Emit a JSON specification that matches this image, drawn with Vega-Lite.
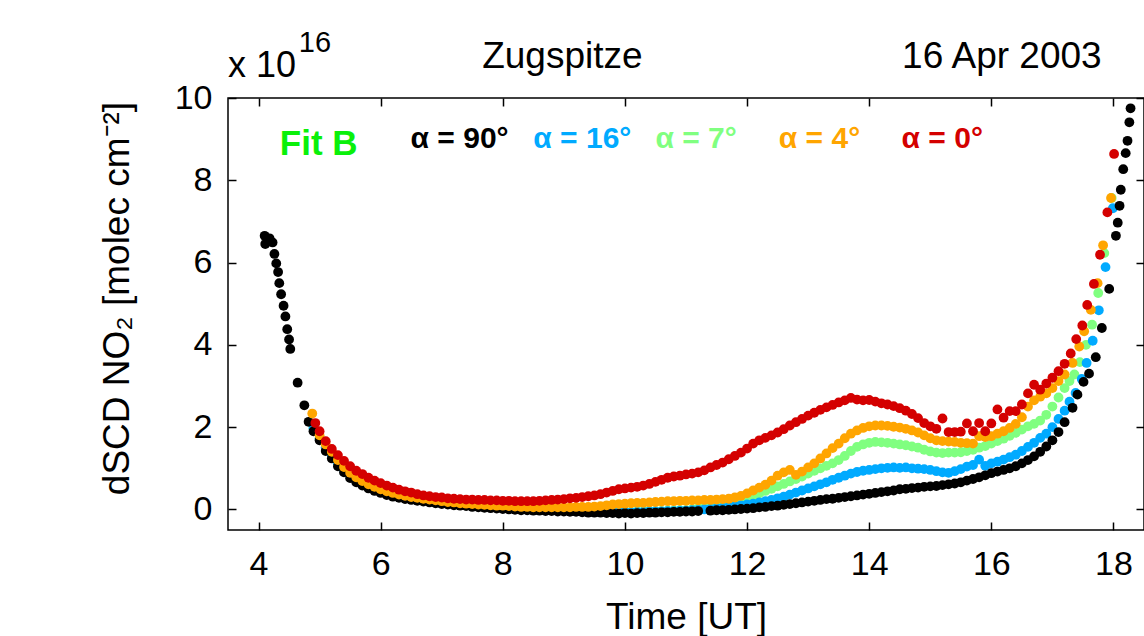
{
"$schema": "https://vega.github.io/schema/vega-lite/v6.json",
"width": 916, "height": 432,
"autosize": {"type": "none"},
"padding": {"left": 228, "top": 98, "right": 0, "bottom": 106},
"background": "white",
"config": {
 "view": {"stroke": "black", "strokeWidth": 1.5},
 "axis": {"grid": false, "domain": false, "tickColor": "black", "tickWidth": 1.5, "tickSize": -8,
  "labelFont": "Liberation Sans", "labelFontSize": 34, "labelColor": "black", "labelFlush": false, "labelOverlap": false,
  "titleFont": "Liberation Sans", "titleFontSize": 37, "titleFontWeight": "normal", "titleColor": "black"},
 "text": {"font": "Liberation Sans"}
},
"datasets": {
"pts": [
{"t":4.9,"v":1.98,"s":"7"},{"t":5.0,"v":1.73,"s":"7"},{"t":5.1,"v":1.51,"s":"7"},{"t":5.2,"v":1.33,"s":"7"},{"t":5.3,"v":1.14,"s":"7"},{"t":5.4,"v":0.98,"s":"7"},{"t":5.5,"v":0.84,"s":"7"},{"t":5.6,"v":0.73,"s":"7"},{"t":5.7,"v":0.64,"s":"7"},{"t":5.8,"v":0.57,"s":"7"},{"t":5.9,"v":0.51,"s":"7"},{"t":6.0,"v":0.45,"s":"7"},{"t":6.1,"v":0.40,"s":"7"},{"t":6.2,"v":0.36,"s":"7"},{"t":6.3,"v":0.33,"s":"7"},{"t":6.4,"v":0.30,"s":"7"},{"t":6.5,"v":0.27,"s":"7"},{"t":6.6,"v":0.25,"s":"7"},{"t":6.7,"v":0.23,"s":"7"},{"t":6.8,"v":0.21,"s":"7"},{"t":6.9,"v":0.19,"s":"7"},{"t":7.0,"v":0.17,"s":"7"},{"t":7.1,"v":0.16,"s":"7"},{"t":7.2,"v":0.14,"s":"7"},{"t":7.3,"v":0.13,"s":"7"},{"t":7.4,"v":0.12,"s":"7"},{"t":7.5,"v":0.10,"s":"7"},{"t":7.6,"v":0.09,"s":"7"},{"t":7.7,"v":0.08,"s":"7"},{"t":7.8,"v":0.07,"s":"7"},{"t":7.9,"v":0.06,"s":"7"},{"t":8.0,"v":0.05,"s":"7"},{"t":8.1,"v":0.04,"s":"7"},{"t":8.2,"v":0.03,"s":"7"},{"t":8.3,"v":0.02,"s":"7"},{"t":8.4,"v":0.02,"s":"7"},{"t":8.5,"v":0.01,"s":"7"},{"t":8.6,"v":0.01,"s":"7"},{"t":8.7,"v":0.00,"s":"7"},{"t":8.8,"v":0.00,"s":"7"},{"t":8.9,"v":-0.01,"s":"7"},{"t":9.0,"v":-0.01,"s":"7"},{"t":9.1,"v":-0.02,"s":"7"},{"t":9.2,"v":-0.02,"s":"7"},{"t":9.3,"v":-0.03,"s":"7"},{"t":9.4,"v":-0.04,"s":"7"},{"t":9.5,"v":-0.04,"s":"7"},{"t":9.6,"v":-0.04,"s":"7"},{"t":9.7,"v":-0.05,"s":"7"},{"t":9.8,"v":-0.05,"s":"7"},{"t":9.9,"v":-0.06,"s":"7"},{"t":10.0,"v":-0.05,"s":"7"},{"t":10.1,"v":-0.06,"s":"7"},{"t":10.2,"v":-0.05,"s":"7"},{"t":10.3,"v":-0.05,"s":"7"},{"t":10.4,"v":-0.04,"s":"7"},{"t":10.5,"v":-0.04,"s":"7"},{"t":10.6,"v":-0.04,"s":"7"},{"t":10.7,"v":-0.03,"s":"7"},{"t":10.8,"v":-0.03,"s":"7"},{"t":10.9,"v":-0.02,"s":"7"},{"t":11.0,"v":-0.02,"s":"7"},{"t":11.1,"v":0.00,"s":"7"},{"t":11.2,"v":0.03,"s":"7"},{"t":11.3,"v":0.05,"s":"7"},{"t":11.4,"v":0.07,"s":"7"},{"t":11.5,"v":0.09,"s":"7"},{"t":11.6,"v":0.12,"s":"7"},{"t":11.7,"v":0.15,"s":"7"},{"t":11.8,"v":0.19,"s":"7"},{"t":11.9,"v":0.24,"s":"7"},{"t":12.0,"v":0.28,"s":"7"},{"t":12.1,"v":0.33,"s":"7"},{"t":12.2,"v":0.39,"s":"7"},{"t":12.3,"v":0.45,"s":"7"},{"t":12.4,"v":0.50,"s":"7"},{"t":12.5,"v":0.56,"s":"7"},{"t":12.6,"v":0.62,"s":"7"},{"t":12.7,"v":0.68,"s":"7"},{"t":12.8,"v":0.74,"s":"7"},{"t":12.9,"v":0.80,"s":"7"},{"t":13.0,"v":0.87,"s":"7"},{"t":13.1,"v":0.94,"s":"7"},{"t":13.2,"v":1.00,"s":"7"},{"t":13.3,"v":1.06,"s":"7"},{"t":13.4,"v":1.12,"s":"7"},{"t":13.5,"v":1.20,"s":"7"},{"t":13.6,"v":1.30,"s":"7"},{"t":13.7,"v":1.42,"s":"7"},{"t":13.8,"v":1.52,"s":"7"},{"t":13.9,"v":1.58,"s":"7"},{"t":14.0,"v":1.62,"s":"7"},{"t":14.1,"v":1.64,"s":"7"},{"t":14.2,"v":1.63,"s":"7"},{"t":14.3,"v":1.62,"s":"7"},{"t":14.4,"v":1.60,"s":"7"},{"t":14.5,"v":1.58,"s":"7"},{"t":14.6,"v":1.56,"s":"7"},{"t":14.7,"v":1.53,"s":"7"},{"t":14.8,"v":1.50,"s":"7"},{"t":14.9,"v":1.45,"s":"7"},{"t":15.0,"v":1.41,"s":"7"},{"t":15.1,"v":1.38,"s":"7"},{"t":15.2,"v":1.37,"s":"7"},{"t":15.3,"v":1.38,"s":"7"},{"t":15.4,"v":1.38,"s":"7"},{"t":15.5,"v":1.39,"s":"7"},{"t":15.6,"v":1.42,"s":"7"},{"t":15.7,"v":1.45,"s":"7"},{"t":15.8,"v":1.50,"s":"7"},{"t":15.9,"v":1.54,"s":"7"},{"t":16.0,"v":1.60,"s":"7"},{"t":16.1,"v":1.66,"s":"7"},{"t":16.2,"v":1.72,"s":"7"},{"t":16.3,"v":1.79,"s":"7"},{"t":16.4,"v":1.86,"s":"7"},{"t":16.5,"v":1.94,"s":"7"},{"t":16.6,"v":2.02,"s":"7"},{"t":16.7,"v":2.08,"s":"7"},{"t":16.8,"v":2.16,"s":"7"},{"t":16.9,"v":2.30,"s":"7"},{"t":17.0,"v":2.50,"s":"7"},{"t":17.1,"v":2.72,"s":"7"},{"t":17.2,"v":2.95,"s":"7"},{"t":17.28,"v":3.12,"s":"7"},{"t":17.36,"v":3.28,"s":"7"},{"t":17.45,"v":3.58,"s":"7"},{"t":17.55,"v":4.00,"s":"7"},{"t":17.65,"v":4.49,"s":"7"},{"t":17.75,"v":5.26,"s":"7"},{"t":17.85,"v":6.23,"s":"7"},{"t":17.97,"v":7.57,"s":"7"},
{"t":4.9,"v":1.97,"s":"16"},{"t":5.0,"v":1.72,"s":"16"},{"t":5.1,"v":1.50,"s":"16"},{"t":5.2,"v":1.32,"s":"16"},{"t":5.3,"v":1.13,"s":"16"},{"t":5.4,"v":0.97,"s":"16"},{"t":5.5,"v":0.83,"s":"16"},{"t":5.6,"v":0.72,"s":"16"},{"t":5.7,"v":0.63,"s":"16"},{"t":5.8,"v":0.56,"s":"16"},{"t":5.9,"v":0.50,"s":"16"},{"t":6.0,"v":0.44,"s":"16"},{"t":6.1,"v":0.39,"s":"16"},{"t":6.2,"v":0.35,"s":"16"},{"t":6.3,"v":0.32,"s":"16"},{"t":6.4,"v":0.29,"s":"16"},{"t":6.5,"v":0.26,"s":"16"},{"t":6.6,"v":0.24,"s":"16"},{"t":6.7,"v":0.22,"s":"16"},{"t":6.8,"v":0.20,"s":"16"},{"t":6.9,"v":0.18,"s":"16"},{"t":7.0,"v":0.16,"s":"16"},{"t":7.1,"v":0.15,"s":"16"},{"t":7.2,"v":0.13,"s":"16"},{"t":7.3,"v":0.12,"s":"16"},{"t":7.4,"v":0.11,"s":"16"},{"t":7.5,"v":0.09,"s":"16"},{"t":7.6,"v":0.08,"s":"16"},{"t":7.7,"v":0.07,"s":"16"},{"t":7.8,"v":0.06,"s":"16"},{"t":7.9,"v":0.05,"s":"16"},{"t":8.0,"v":0.04,"s":"16"},{"t":8.1,"v":0.03,"s":"16"},{"t":8.2,"v":0.02,"s":"16"},{"t":8.3,"v":0.01,"s":"16"},{"t":8.4,"v":0.01,"s":"16"},{"t":8.5,"v":0.00,"s":"16"},{"t":8.6,"v":0.00,"s":"16"},{"t":8.7,"v":-0.01,"s":"16"},{"t":8.8,"v":-0.01,"s":"16"},{"t":8.9,"v":-0.02,"s":"16"},{"t":9.0,"v":-0.02,"s":"16"},{"t":9.1,"v":-0.03,"s":"16"},{"t":9.2,"v":-0.03,"s":"16"},{"t":9.3,"v":-0.04,"s":"16"},{"t":9.4,"v":-0.05,"s":"16"},{"t":9.5,"v":-0.05,"s":"16"},{"t":9.6,"v":-0.05,"s":"16"},{"t":9.7,"v":-0.06,"s":"16"},{"t":9.8,"v":-0.06,"s":"16"},{"t":9.9,"v":-0.07,"s":"16"},{"t":10.0,"v":-0.06,"s":"16"},{"t":10.1,"v":-0.07,"s":"16"},{"t":10.2,"v":-0.06,"s":"16"},{"t":10.3,"v":-0.06,"s":"16"},{"t":10.4,"v":-0.05,"s":"16"},{"t":10.5,"v":-0.05,"s":"16"},{"t":10.6,"v":-0.05,"s":"16"},{"t":10.7,"v":-0.04,"s":"16"},{"t":10.8,"v":-0.04,"s":"16"},{"t":10.9,"v":-0.03,"s":"16"},{"t":11.0,"v":-0.03,"s":"16"},{"t":11.1,"v":-0.02,"s":"16"},{"t":11.2,"v":-0.01,"s":"16"},{"t":11.3,"v":0.00,"s":"16"},{"t":11.4,"v":0.01,"s":"16"},{"t":11.5,"v":0.03,"s":"16"},{"t":11.6,"v":0.04,"s":"16"},{"t":11.7,"v":0.06,"s":"16"},{"t":11.8,"v":0.08,"s":"16"},{"t":11.9,"v":0.10,"s":"16"},{"t":12.0,"v":0.12,"s":"16"},{"t":12.1,"v":0.14,"s":"16"},{"t":12.2,"v":0.17,"s":"16"},{"t":12.3,"v":0.20,"s":"16"},{"t":12.4,"v":0.23,"s":"16"},{"t":12.5,"v":0.27,"s":"16"},{"t":12.6,"v":0.31,"s":"16"},{"t":12.7,"v":0.36,"s":"16"},{"t":12.8,"v":0.41,"s":"16"},{"t":12.9,"v":0.46,"s":"16"},{"t":13.0,"v":0.51,"s":"16"},{"t":13.1,"v":0.56,"s":"16"},{"t":13.2,"v":0.61,"s":"16"},{"t":13.3,"v":0.66,"s":"16"},{"t":13.4,"v":0.72,"s":"16"},{"t":13.5,"v":0.77,"s":"16"},{"t":13.6,"v":0.82,"s":"16"},{"t":13.7,"v":0.87,"s":"16"},{"t":13.8,"v":0.91,"s":"16"},{"t":13.9,"v":0.94,"s":"16"},{"t":14.0,"v":0.96,"s":"16"},{"t":14.1,"v":0.98,"s":"16"},{"t":14.2,"v":1.00,"s":"16"},{"t":14.3,"v":1.01,"s":"16"},{"t":14.4,"v":1.02,"s":"16"},{"t":14.5,"v":1.01,"s":"16"},{"t":14.6,"v":1.02,"s":"16"},{"t":14.7,"v":1.00,"s":"16"},{"t":14.8,"v":0.99,"s":"16"},{"t":14.9,"v":0.98,"s":"16"},{"t":15.0,"v":0.96,"s":"16"},{"t":15.1,"v":0.93,"s":"16"},{"t":15.2,"v":0.90,"s":"16"},{"t":15.3,"v":0.89,"s":"16"},{"t":15.4,"v":0.93,"s":"16"},{"t":15.5,"v":0.98,"s":"16"},{"t":15.6,"v":1.04,"s":"16"},{"t":15.7,"v":1.08,"s":"16"},{"t":15.8,"v":1.21,"s":"16"},{"t":15.9,"v":1.06,"s":"16"},{"t":16.0,"v":1.12,"s":"16"},{"t":16.1,"v":1.16,"s":"16"},{"t":16.2,"v":1.21,"s":"16"},{"t":16.3,"v":1.27,"s":"16"},{"t":16.4,"v":1.33,"s":"16"},{"t":16.5,"v":1.42,"s":"16"},{"t":16.6,"v":1.52,"s":"16"},{"t":16.7,"v":1.62,"s":"16"},{"t":16.8,"v":1.74,"s":"16"},{"t":16.9,"v":1.84,"s":"16"},{"t":17.0,"v":2.00,"s":"16"},{"t":17.1,"v":2.20,"s":"16"},{"t":17.2,"v":2.40,"s":"16"},{"t":17.28,"v":2.62,"s":"16"},{"t":17.38,"v":2.83,"s":"16"},{"t":17.48,"v":3.17,"s":"16"},{"t":17.56,"v":3.56,"s":"16"},{"t":17.66,"v":4.10,"s":"16"},{"t":17.76,"v":4.84,"s":"16"},{"t":17.87,"v":5.89,"s":"16"},{"t":17.99,"v":7.32,"s":"16"},
{"t":4.10,"v":6.65,"s":"90"},{"t":4.11,"v":6.45,"s":"90"},{"t":4.18,"v":6.59,"s":"90"},{"t":4.23,"v":6.49,"s":"90"},{"t":4.26,"v":6.21,"s":"90"},{"t":4.29,"v":5.98,"s":"90"},{"t":4.32,"v":5.77,"s":"90"},{"t":4.34,"v":5.50,"s":"90"},{"t":4.37,"v":5.23,"s":"90"},{"t":4.41,"v":4.95,"s":"90"},{"t":4.44,"v":4.69,"s":"90"},{"t":4.47,"v":4.38,"s":"90"},{"t":4.50,"v":4.13,"s":"90"},{"t":4.52,"v":3.90,"s":"90"},{"t":4.64,"v":3.08,"s":"90"},{"t":4.75,"v":2.53,"s":"90"},{"t":4.82,"v":2.13,"s":"90"},
{"t":4.9,"v":1.90,"s":"90"},{"t":5.0,"v":1.68,"s":"90"},{"t":5.1,"v":1.42,"s":"90"},{"t":5.2,"v":1.24,"s":"90"},{"t":5.3,"v":1.05,"s":"90"},{"t":5.4,"v":0.90,"s":"90"},{"t":5.5,"v":0.76,"s":"90"},{"t":5.6,"v":0.66,"s":"90"},{"t":5.7,"v":0.58,"s":"90"},{"t":5.8,"v":0.51,"s":"90"},{"t":5.9,"v":0.45,"s":"90"},{"t":6.0,"v":0.40,"s":"90"},{"t":6.1,"v":0.35,"s":"90"},{"t":6.2,"v":0.31,"s":"90"},{"t":6.3,"v":0.28,"s":"90"},{"t":6.4,"v":0.25,"s":"90"},{"t":6.5,"v":0.23,"s":"90"},{"t":6.6,"v":0.21,"s":"90"},{"t":6.7,"v":0.19,"s":"90"},{"t":6.8,"v":0.17,"s":"90"},{"t":6.9,"v":0.15,"s":"90"},{"t":7.0,"v":0.13,"s":"90"},{"t":7.1,"v":0.12,"s":"90"},{"t":7.2,"v":0.10,"s":"90"},{"t":7.3,"v":0.09,"s":"90"},{"t":7.4,"v":0.08,"s":"90"},{"t":7.5,"v":0.06,"s":"90"},{"t":7.6,"v":0.05,"s":"90"},{"t":7.7,"v":0.04,"s":"90"},{"t":7.8,"v":0.03,"s":"90"},{"t":7.9,"v":0.02,"s":"90"},{"t":8.0,"v":0.01,"s":"90"},{"t":8.1,"v":0.00,"s":"90"},{"t":8.2,"v":-0.01,"s":"90"},{"t":8.3,"v":-0.02,"s":"90"},{"t":8.4,"v":-0.02,"s":"90"},{"t":8.5,"v":-0.03,"s":"90"},{"t":8.6,"v":-0.03,"s":"90"},{"t":8.7,"v":-0.04,"s":"90"},{"t":8.8,"v":-0.04,"s":"90"},{"t":8.9,"v":-0.05,"s":"90"},{"t":9.0,"v":-0.05,"s":"90"},{"t":9.1,"v":-0.06,"s":"90"},{"t":9.2,"v":-0.06,"s":"90"},{"t":9.3,"v":-0.07,"s":"90"},{"t":9.4,"v":-0.08,"s":"90"},{"t":9.5,"v":-0.08,"s":"90"},{"t":9.6,"v":-0.08,"s":"90"},{"t":9.7,"v":-0.09,"s":"90"},{"t":9.8,"v":-0.09,"s":"90"},{"t":9.9,"v":-0.10,"s":"90"},{"t":10.0,"v":-0.09,"s":"90"},{"t":10.1,"v":-0.10,"s":"90"},{"t":10.2,"v":-0.09,"s":"90"},{"t":10.3,"v":-0.09,"s":"90"},{"t":10.4,"v":-0.08,"s":"90"},{"t":10.5,"v":-0.08,"s":"90"},{"t":10.6,"v":-0.07,"s":"90"},{"t":10.7,"v":-0.07,"s":"90"},{"t":10.8,"v":-0.06,"s":"90"},{"t":10.9,"v":-0.06,"s":"90"},{"t":11.0,"v":-0.05,"s":"90"},{"t":11.1,"v":-0.05,"s":"90"},{"t":11.2,"v":-0.04,"s":"90"},{"t":11.4,"v":-0.03,"s":"90"},{"t":11.5,"v":-0.02,"s":"90"},{"t":11.6,"v":-0.02,"s":"90"},{"t":11.7,"v":-0.01,"s":"90"},{"t":11.8,"v":0.00,"s":"90"},{"t":11.9,"v":0.01,"s":"90"},{"t":12.0,"v":0.02,"s":"90"},{"t":12.1,"v":0.03,"s":"90"},{"t":12.2,"v":0.05,"s":"90"},{"t":12.3,"v":0.06,"s":"90"},{"t":12.4,"v":0.08,"s":"90"},{"t":12.5,"v":0.09,"s":"90"},{"t":12.6,"v":0.11,"s":"90"},{"t":12.7,"v":0.13,"s":"90"},{"t":12.8,"v":0.15,"s":"90"},{"t":12.9,"v":0.17,"s":"90"},{"t":13.0,"v":0.19,"s":"90"},{"t":13.1,"v":0.21,"s":"90"},{"t":13.2,"v":0.23,"s":"90"},{"t":13.3,"v":0.25,"s":"90"},{"t":13.4,"v":0.26,"s":"90"},{"t":13.5,"v":0.28,"s":"90"},{"t":13.6,"v":0.30,"s":"90"},{"t":13.7,"v":0.32,"s":"90"},{"t":13.8,"v":0.34,"s":"90"},{"t":13.9,"v":0.36,"s":"90"},{"t":14.0,"v":0.38,"s":"90"},{"t":14.1,"v":0.40,"s":"90"},{"t":14.2,"v":0.42,"s":"90"},{"t":14.3,"v":0.44,"s":"90"},{"t":14.4,"v":0.46,"s":"90"},{"t":14.5,"v":0.49,"s":"90"},{"t":14.6,"v":0.50,"s":"90"},{"t":14.7,"v":0.52,"s":"90"},{"t":14.8,"v":0.53,"s":"90"},{"t":14.9,"v":0.55,"s":"90"},{"t":15.0,"v":0.56,"s":"90"},{"t":15.1,"v":0.57,"s":"90"},{"t":15.2,"v":0.59,"s":"90"},{"t":15.3,"v":0.61,"s":"90"},{"t":15.4,"v":0.63,"s":"90"},{"t":15.5,"v":0.66,"s":"90"},{"t":15.6,"v":0.70,"s":"90"},{"t":15.7,"v":0.74,"s":"90"},{"t":15.8,"v":0.78,"s":"90"},{"t":15.9,"v":0.83,"s":"90"},{"t":16.0,"v":0.88,"s":"90"},{"t":16.1,"v":0.92,"s":"90"},{"t":16.2,"v":0.96,"s":"90"},{"t":16.3,"v":1.00,"s":"90"},{"t":16.4,"v":1.05,"s":"90"},{"t":16.5,"v":1.12,"s":"90"},{"t":16.6,"v":1.20,"s":"90"},{"t":16.7,"v":1.29,"s":"90"},{"t":16.8,"v":1.40,"s":"90"},{"t":16.9,"v":1.53,"s":"90"},{"t":17.0,"v":1.68,"s":"90"},{"t":17.1,"v":1.88,"s":"90"},{"t":17.2,"v":2.12,"s":"90"},{"t":17.33,"v":2.47,"s":"90"},{"t":17.41,"v":2.79,"s":"90"},{"t":17.51,"v":3.10,"s":"90"},{"t":17.60,"v":3.30,"s":"90"},{"t":17.71,"v":3.70,"s":"90"},{"t":17.81,"v":4.41,"s":"90"},{"t":17.93,"v":5.36,"s":"90"},{"t":18.04,"v":6.65,"s":"90"},{"t":18.07,"v":6.97,"s":"90"},{"t":18.10,"v":7.38,"s":"90"},{"t":18.12,"v":7.77,"s":"90"},{"t":18.16,"v":8.27,"s":"90"},{"t":18.20,"v":8.66,"s":"90"},{"t":18.23,"v":8.96,"s":"90"},{"t":18.26,"v":9.41,"s":"90"},{"t":18.28,"v":9.75,"s":"90"},
{"t":4.88,"v":2.33,"s":"4"},{"t":5.0,"v":1.80,"s":"4"},{"t":5.1,"v":1.58,"s":"4"},{"t":5.2,"v":1.40,"s":"4"},{"t":5.3,"v":1.20,"s":"4"},{"t":5.4,"v":1.03,"s":"4"},{"t":5.5,"v":0.89,"s":"4"},{"t":5.6,"v":0.78,"s":"4"},{"t":5.7,"v":0.69,"s":"4"},{"t":5.8,"v":0.61,"s":"4"},{"t":5.9,"v":0.55,"s":"4"},{"t":6.0,"v":0.49,"s":"4"},{"t":6.1,"v":0.44,"s":"4"},{"t":6.2,"v":0.40,"s":"4"},{"t":6.3,"v":0.36,"s":"4"},{"t":6.4,"v":0.33,"s":"4"},{"t":6.5,"v":0.30,"s":"4"},{"t":6.6,"v":0.28,"s":"4"},{"t":6.7,"v":0.26,"s":"4"},{"t":6.8,"v":0.24,"s":"4"},{"t":6.9,"v":0.22,"s":"4"},{"t":7.0,"v":0.20,"s":"4"},{"t":7.1,"v":0.18,"s":"4"},{"t":7.2,"v":0.17,"s":"4"},{"t":7.3,"v":0.15,"s":"4"},{"t":7.4,"v":0.14,"s":"4"},{"t":7.5,"v":0.13,"s":"4"},{"t":7.6,"v":0.12,"s":"4"},{"t":7.7,"v":0.11,"s":"4"},{"t":7.8,"v":0.10,"s":"4"},{"t":7.9,"v":0.09,"s":"4"},{"t":8.0,"v":0.09,"s":"4"},{"t":8.1,"v":0.08,"s":"4"},{"t":8.2,"v":0.07,"s":"4"},{"t":8.3,"v":0.06,"s":"4"},{"t":8.4,"v":0.06,"s":"4"},{"t":8.5,"v":0.05,"s":"4"},{"t":8.6,"v":0.05,"s":"4"},{"t":8.7,"v":0.05,"s":"4"},{"t":8.8,"v":0.05,"s":"4"},{"t":8.9,"v":0.05,"s":"4"},{"t":9.0,"v":0.05,"s":"4"},{"t":9.1,"v":0.05,"s":"4"},{"t":9.2,"v":0.06,"s":"4"},{"t":9.3,"v":0.06,"s":"4"},{"t":9.4,"v":0.06,"s":"4"},{"t":9.5,"v":0.07,"s":"4"},{"t":9.6,"v":0.08,"s":"4"},{"t":9.7,"v":0.10,"s":"4"},{"t":9.8,"v":0.12,"s":"4"},{"t":9.9,"v":0.13,"s":"4"},{"t":10.0,"v":0.14,"s":"4"},{"t":10.1,"v":0.15,"s":"4"},{"t":10.2,"v":0.16,"s":"4"},{"t":10.3,"v":0.16,"s":"4"},{"t":10.4,"v":0.17,"s":"4"},{"t":10.5,"v":0.18,"s":"4"},{"t":10.6,"v":0.19,"s":"4"},{"t":10.7,"v":0.20,"s":"4"},{"t":10.8,"v":0.20,"s":"4"},{"t":10.9,"v":0.21,"s":"4"},{"t":11.0,"v":0.21,"s":"4"},{"t":11.1,"v":0.22,"s":"4"},{"t":11.2,"v":0.22,"s":"4"},{"t":11.3,"v":0.23,"s":"4"},{"t":11.4,"v":0.23,"s":"4"},{"t":11.5,"v":0.24,"s":"4"},{"t":11.6,"v":0.25,"s":"4"},{"t":11.7,"v":0.26,"s":"4"},{"t":11.8,"v":0.29,"s":"4"},{"t":11.9,"v":0.33,"s":"4"},{"t":12.0,"v":0.39,"s":"4"},{"t":12.1,"v":0.46,"s":"4"},{"t":12.2,"v":0.53,"s":"4"},{"t":12.3,"v":0.60,"s":"4"},{"t":12.4,"v":0.70,"s":"4"},{"t":12.5,"v":0.82,"s":"4"},{"t":12.6,"v":0.90,"s":"4"},{"t":12.7,"v":0.96,"s":"4"},{"t":12.8,"v":0.84,"s":"4"},{"t":12.9,"v":0.92,"s":"4"},{"t":13.0,"v":1.02,"s":"4"},{"t":13.1,"v":1.12,"s":"4"},{"t":13.2,"v":1.24,"s":"4"},{"t":13.3,"v":1.36,"s":"4"},{"t":13.4,"v":1.49,"s":"4"},{"t":13.5,"v":1.60,"s":"4"},{"t":13.6,"v":1.73,"s":"4"},{"t":13.7,"v":1.84,"s":"4"},{"t":13.8,"v":1.92,"s":"4"},{"t":13.9,"v":1.98,"s":"4"},{"t":14.0,"v":2.02,"s":"4"},{"t":14.1,"v":2.04,"s":"4"},{"t":14.2,"v":2.04,"s":"4"},{"t":14.3,"v":2.03,"s":"4"},{"t":14.4,"v":2.01,"s":"4"},{"t":14.5,"v":1.99,"s":"4"},{"t":14.6,"v":1.96,"s":"4"},{"t":14.7,"v":1.92,"s":"4"},{"t":14.8,"v":1.87,"s":"4"},{"t":14.9,"v":1.80,"s":"4"},{"t":15.0,"v":1.73,"s":"4"},{"t":15.1,"v":1.68,"s":"4"},{"t":15.2,"v":1.66,"s":"4"},{"t":15.3,"v":1.65,"s":"4"},{"t":15.4,"v":1.64,"s":"4"},{"t":15.5,"v":1.62,"s":"4"},{"t":15.6,"v":1.61,"s":"4"},{"t":15.7,"v":1.60,"s":"4"},{"t":15.8,"v":1.78,"s":"4"},{"t":15.9,"v":1.76,"s":"4"},{"t":16.0,"v":1.78,"s":"4"},{"t":16.1,"v":1.84,"s":"4"},{"t":16.2,"v":1.90,"s":"4"},{"t":16.3,"v":1.98,"s":"4"},{"t":16.4,"v":2.08,"s":"4"},{"t":16.5,"v":2.24,"s":"4"},{"t":16.6,"v":2.50,"s":"4"},{"t":16.7,"v":2.65,"s":"4"},{"t":16.8,"v":2.74,"s":"4"},{"t":16.9,"v":2.82,"s":"4"},{"t":17.0,"v":2.95,"s":"4"},{"t":17.1,"v":3.12,"s":"4"},{"t":17.2,"v":3.28,"s":"4"},{"t":17.33,"v":3.56,"s":"4"},{"t":17.44,"v":3.96,"s":"4"},{"t":17.52,"v":4.33,"s":"4"},{"t":17.63,"v":4.85,"s":"4"},{"t":17.74,"v":5.50,"s":"4"},{"t":17.83,"v":6.42,"s":"4"},{"t":17.96,"v":7.57,"s":"4"},
{"t":4.93,"v":2.10,"s":"0"},{"t":5.0,"v":1.90,"s":"0"},{"t":5.1,"v":1.66,"s":"0"},{"t":5.2,"v":1.47,"s":"0"},{"t":5.3,"v":1.32,"s":"0"},{"t":5.4,"v":1.18,"s":"0"},{"t":5.5,"v":1.05,"s":"0"},{"t":5.6,"v":0.94,"s":"0"},{"t":5.7,"v":0.86,"s":"0"},{"t":5.8,"v":0.77,"s":"0"},{"t":5.9,"v":0.70,"s":"0"},{"t":6.0,"v":0.64,"s":"0"},{"t":6.1,"v":0.58,"s":"0"},{"t":6.2,"v":0.53,"s":"0"},{"t":6.3,"v":0.48,"s":"0"},{"t":6.4,"v":0.44,"s":"0"},{"t":6.5,"v":0.41,"s":"0"},{"t":6.6,"v":0.37,"s":"0"},{"t":6.7,"v":0.34,"s":"0"},{"t":6.8,"v":0.32,"s":"0"},{"t":6.9,"v":0.30,"s":"0"},{"t":7.0,"v":0.29,"s":"0"},{"t":7.1,"v":0.27,"s":"0"},{"t":7.2,"v":0.26,"s":"0"},{"t":7.3,"v":0.25,"s":"0"},{"t":7.4,"v":0.24,"s":"0"},{"t":7.5,"v":0.24,"s":"0"},{"t":7.6,"v":0.23,"s":"0"},{"t":7.7,"v":0.23,"s":"0"},{"t":7.8,"v":0.22,"s":"0"},{"t":7.9,"v":0.22,"s":"0"},{"t":8.0,"v":0.21,"s":"0"},{"t":8.1,"v":0.21,"s":"0"},{"t":8.2,"v":0.20,"s":"0"},{"t":8.3,"v":0.20,"s":"0"},{"t":8.4,"v":0.20,"s":"0"},{"t":8.5,"v":0.20,"s":"0"},{"t":8.6,"v":0.21,"s":"0"},{"t":8.7,"v":0.22,"s":"0"},{"t":8.8,"v":0.23,"s":"0"},{"t":8.9,"v":0.24,"s":"0"},{"t":9.0,"v":0.25,"s":"0"},{"t":9.1,"v":0.27,"s":"0"},{"t":9.2,"v":0.28,"s":"0"},{"t":9.3,"v":0.30,"s":"0"},{"t":9.4,"v":0.32,"s":"0"},{"t":9.5,"v":0.34,"s":"0"},{"t":9.6,"v":0.37,"s":"0"},{"t":9.7,"v":0.41,"s":"0"},{"t":9.8,"v":0.45,"s":"0"},{"t":9.9,"v":0.49,"s":"0"},{"t":10.0,"v":0.51,"s":"0"},{"t":10.1,"v":0.53,"s":"0"},{"t":10.2,"v":0.55,"s":"0"},{"t":10.3,"v":0.58,"s":"0"},{"t":10.4,"v":0.62,"s":"0"},{"t":10.5,"v":0.67,"s":"0"},{"t":10.6,"v":0.72,"s":"0"},{"t":10.7,"v":0.77,"s":"0"},{"t":10.8,"v":0.80,"s":"0"},{"t":10.9,"v":0.82,"s":"0"},{"t":11.0,"v":0.85,"s":"0"},{"t":11.1,"v":0.87,"s":"0"},{"t":11.2,"v":0.90,"s":"0"},{"t":11.3,"v":0.95,"s":"0"},{"t":11.4,"v":1.02,"s":"0"},{"t":11.5,"v":1.08,"s":"0"},{"t":11.6,"v":1.14,"s":"0"},{"t":11.7,"v":1.22,"s":"0"},{"t":11.8,"v":1.30,"s":"0"},{"t":11.9,"v":1.38,"s":"0"},{"t":12.0,"v":1.48,"s":"0"},{"t":12.1,"v":1.60,"s":"0"},{"t":12.2,"v":1.68,"s":"0"},{"t":12.3,"v":1.74,"s":"0"},{"t":12.4,"v":1.80,"s":"0"},{"t":12.5,"v":1.87,"s":"0"},{"t":12.6,"v":1.95,"s":"0"},{"t":12.7,"v":2.04,"s":"0"},{"t":12.8,"v":2.12,"s":"0"},{"t":12.9,"v":2.20,"s":"0"},{"t":13.0,"v":2.28,"s":"0"},{"t":13.1,"v":2.35,"s":"0"},{"t":13.2,"v":2.42,"s":"0"},{"t":13.3,"v":2.48,"s":"0"},{"t":13.4,"v":2.54,"s":"0"},{"t":13.5,"v":2.60,"s":"0"},{"t":13.6,"v":2.65,"s":"0"},{"t":13.7,"v":2.71,"s":"0"},{"t":13.8,"v":2.67,"s":"0"},{"t":13.9,"v":2.65,"s":"0"},{"t":14.0,"v":2.66,"s":"0"},{"t":14.1,"v":2.62,"s":"0"},{"t":14.2,"v":2.58,"s":"0"},{"t":14.3,"v":2.55,"s":"0"},{"t":14.4,"v":2.51,"s":"0"},{"t":14.5,"v":2.46,"s":"0"},{"t":14.6,"v":2.40,"s":"0"},{"t":14.7,"v":2.32,"s":"0"},{"t":14.8,"v":2.22,"s":"0"},{"t":14.9,"v":2.10,"s":"0"},{"t":15.0,"v":2.02,"s":"0"},{"t":15.1,"v":1.96,"s":"0"},{"t":15.2,"v":2.21,"s":"0"},{"t":15.3,"v":1.88,"s":"0"},{"t":15.4,"v":1.88,"s":"0"},{"t":15.5,"v":1.89,"s":"0"},{"t":15.6,"v":2.09,"s":"0"},{"t":15.7,"v":1.90,"s":"0"},{"t":15.8,"v":2.10,"s":"0"},{"t":15.9,"v":1.90,"s":"0"},{"t":16.0,"v":2.09,"s":"0"},{"t":16.1,"v":2.43,"s":"0"},{"t":16.2,"v":2.23,"s":"0"},{"t":16.3,"v":2.39,"s":"0"},{"t":16.4,"v":2.39,"s":"0"},{"t":16.5,"v":2.55,"s":"0"},{"t":16.6,"v":2.82,"s":"0"},{"t":16.7,"v":3.03,"s":"0"},{"t":16.8,"v":2.91,"s":"0"},{"t":16.9,"v":3.06,"s":"0"},{"t":17.0,"v":3.20,"s":"0"},{"t":17.1,"v":3.36,"s":"0"},{"t":17.2,"v":3.54,"s":"0"},{"t":17.3,"v":3.79,"s":"0"},{"t":17.39,"v":4.14,"s":"0"},{"t":17.49,"v":4.47,"s":"0"},{"t":17.57,"v":4.97,"s":"0"},{"t":17.68,"v":5.48,"s":"0"},{"t":17.78,"v":6.19,"s":"0"},{"t":17.9,"v":7.22,"s":"0"},{"t":18.01,"v":8.64,"s":"0"}
],
"leg": [
{"t":6.49,"v":8.78,"s":"90","label":"α = 90°"},
{"t":8.50,"v":8.78,"s":"16","label":"α = 16°"},
{"t":10.50,"v":8.78,"s":"7","label":"α = 7°"},
{"t":12.52,"v":8.78,"s":"4","label":"α = 4°"},
{"t":14.53,"v":8.78,"s":"0","label":"α = 0°"}
],
"fit": [{"t":4.348,"v":8.62,"label":"Fit B"}],
"titles": [
{"t":8.975,"v":10.72,"label":"Zugspitze"},
{"t":16.172,"v":10.72,"label":"16 Apr 2003"}
],
"mant": [{"t":3.50,"v":10.51,"label":"x 10"}],
"expo": [{"t":4.66,"v":11.12,"label":"16"}]
},
"layer": [
{
 "data": {"name": "pts"},
 "mark": {"type": "circle", "size": 96, "opacity": 1},
 "encoding": {
  "x": {"field": "t", "type": "quantitative", "scale": {"domain": [3.5, 18.5], "nice": false, "zero": false},
        "axis": {"orient": "bottom", "values": [4,6,8,10,12,14,16,18], "labelPadding": 25, "title": "Time [UT]", "titleY": 98, "titleBaseline": "alphabetic"}},
  "y": {"field": "v", "type": "quantitative", "scale": {"domain": [-0.5, 10], "nice": false, "zero": false},
        "axis": {"orient": "left", "values": [0,2,4,6,8,10], "labelPadding": 24, "title": "dSCD NO₂ [molec cm⁻²]", "titleX": -100, "titleY": 200, "titleBaseline": "alphabetic", "titleAngle": 270, "titleAlign": "center"}},
  "color": {"field": "s", "type": "nominal", "legend": null,
        "scale": {"domain": ["90","16","7","4","0"], "range": ["#000000","#00aaff","#80ff80","#ffa500","#d40000"]}}
 }
},
{
 "data": {"name": "leg"},
 "mark": {"type": "text", "align": "left", "baseline": "alphabetic", "fontSize": 30, "fontWeight": "bold"},
 "encoding": {
  "x": {"field": "t", "type": "quantitative", "scale": {"domain": [3.5, 18.5], "nice": false, "zero": false},
        "axis": {"orient": "top", "values": [4,6,8,10,12,14,16,18], "labels": false, "title": null}},
  "y": {"field": "v", "type": "quantitative", "scale": {"domain": [-0.5, 10], "nice": false, "zero": false},
        "axis": {"orient": "right", "values": [0,2,4,6,8,10], "labels": false, "title": null}},
  "text": {"field": "label"},
  "color": {"field": "s", "type": "nominal", "legend": null}
 }
},
{
 "data": {"name": "fit"},
 "mark": {"type": "text", "align": "left", "baseline": "alphabetic", "fontSize": 35, "fontWeight": "bold", "color": "#0af00a"},
 "encoding": {
  "x": {"field": "t", "type": "quantitative", "scale": {"domain": [3.5, 18.5], "nice": false, "zero": false}, "axis": null},
  "y": {"field": "v", "type": "quantitative", "scale": {"domain": [-0.5, 10], "nice": false, "zero": false}, "axis": null},
  "text": {"field": "label"}
 }
},
{
 "data": {"name": "titles"},
 "mark": {"type": "text", "align": "center", "baseline": "alphabetic", "fontSize": 37, "color": "black"},
 "encoding": {
  "x": {"field": "t", "type": "quantitative", "scale": {"domain": [3.5, 18.5], "nice": false, "zero": false}, "axis": null},
  "y": {"field": "v", "type": "quantitative", "scale": {"domain": [-0.5, 10], "nice": false, "zero": false}, "axis": null},
  "text": {"field": "label"}
 }
},
{
 "data": {"name": "mant"},
 "mark": {"type": "text", "align": "left", "baseline": "alphabetic", "fontSize": 36, "color": "black"},
 "encoding": {
  "x": {"field": "t", "type": "quantitative", "scale": {"domain": [3.5, 18.5], "nice": false, "zero": false}, "axis": null},
  "y": {"field": "v", "type": "quantitative", "scale": {"domain": [-0.5, 10], "nice": false, "zero": false}, "axis": null},
  "text": {"field": "label"}
 }
},
{
 "data": {"name": "expo"},
 "mark": {"type": "text", "align": "left", "baseline": "alphabetic", "fontSize": 29, "color": "black"},
 "encoding": {
  "x": {"field": "t", "type": "quantitative", "scale": {"domain": [3.5, 18.5], "nice": false, "zero": false}, "axis": null},
  "y": {"field": "v", "type": "quantitative", "scale": {"domain": [-0.5, 10], "nice": false, "zero": false}, "axis": null},
  "text": {"field": "label"}
 }
}
],
"resolve": {"scale": {"x": "independent", "y": "independent"}, "axis": {"x": "independent", "y": "independent"}}
}
